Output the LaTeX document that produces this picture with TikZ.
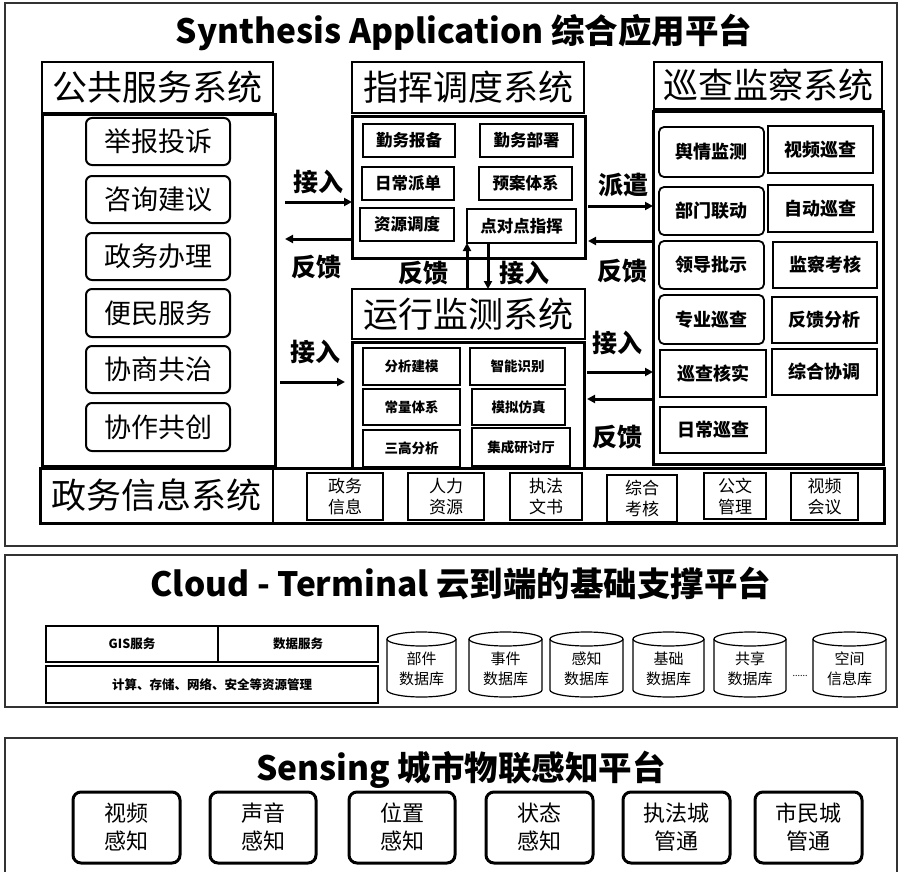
\documentclass[tikz,border=0pt]{standalone}
\usepackage{fontspec}
\setmainfont{Noto Sans CJK SC}
\usetikzlibrary{arrows.meta}
\newcommand\bx[7]{\node[#6, minimum width=#4pt-#2pt, minimum height=#5pt-#3pt] (#1) at ({(#2+#4)/2},{(#3+#5)/2}) {#7};}
\newcommand\cyl[4]{%
 \draw[dbline] (#2,639) -- (#2,690) arc[start angle=180,end angle=0,x radius={(#3-#2)/2},y radius=7] -- (#3,639);
 \draw[dbline] ({(#2+#3)/2},639) ellipse[x radius={(#3-#2)/2}, y radius=7];
 \node[dbt] (#1) at ({(#2+#3)/2},669) {#4};}
\begin{document}
\begin{tikzpicture}[x=1pt,y=-1pt,
  every node/.style={inner sep=0pt, outer sep=0pt, align=center},
  frame/.style={draw=black!80, line width=1.5pt},
  hdr/.style={draw, line width=1.8pt, font=\fontsize{35}{37}\selectfont},
  body/.style={draw, line width=3pt},
  item/.style={draw, line width=2pt, rounded corners=6pt, font=\fontsize{27}{29}\selectfont},
  cmd/.style={draw, line width=1.8pt, font=\bfseries\fontsize{16.5}{18}\selectfont},
  mon/.style={draw, line width=1.8pt, font=\bfseries\fontsize{13.5}{15}\selectfont},
  pat/.style={draw, line width=1.8pt, font=\bfseries\fontsize{18}{20}\selectfont},
  patr/.style={pat, rounded corners=5pt},
  lbl/.style={font=\bfseries\fontsize{25}{27}\selectfont},
  arr/.style={line width=3pt, -{Triangle[length=8pt,width=8pt]}},
  ttl/.style={font=\bfseries\fontsize{33.5}{35}\selectfont},
  gov/.style={draw, line width=1.8pt, font=\fontsize{17}{21}\selectfont},
  svc/.style={draw, line width=1.5pt, font=\bfseries\fontsize{12.5}{14}\selectfont},
  dbt/.style={font=\fontsize{15}{20}\selectfont},
  dbline/.style={line width=1.2pt},
  sens/.style={draw, line width=3pt, rounded corners=8pt, font=\fontsize{22}{28}\selectfont},
]
\useasboundingbox (0,0) rectangle (902,872);

% outer frames
\bx{synth}{5}{3}{897}{546}{frame}{}
\bx{cloud}{5}{555}{897}{707}{frame}{}
\draw[frame] (5,873) -- (5,738) -- (897,738) -- (897,873);

% titles
\node[ttl] (t1) at (464,32) {Synthesis Application 综合应用平台};
\node[ttl] (t2) at (461,584) {Cloud - Terminal 云到端的基础支撑平台};
\node[ttl] (t3) at (461,770) {Sensing 城市物联感知平台};

% left column
\bx{lh}{42}{62}{273}{113}{hdr}{公共服务系统}
\bx{lb}{42}{115}{275}{466}{body}{}
\bx{l1}{86}{118}{230}{165}{item}{举报投诉}
\bx{l2}{86}{176}{230}{223}{item}{咨询建议}
\bx{l3}{86}{233}{230}{280}{item}{政务办理}
\bx{l4}{86}{289}{230}{337}{item}{便民服务}
\bx{l5}{86}{346}{230}{393}{item}{协商共治}
\bx{l6}{86}{403}{230}{451}{item}{协作共创}

% command system
\bx{ch}{352}{62}{584}{113}{hdr}{指挥调度系统}
\bx{cb}{352}{117}{585}{258}{body}{}
\bx{c1}{363}{124}{455}{157}{cmd}{勤务报备}
\bx{c2}{480}{124}{573}{157}{cmd}{勤务部署}
\bx{c3}{362}{167}{454}{200}{cmd}{日常派单}
\bx{c4}{479}{167}{572}{200}{cmd}{预案体系}
\bx{c5}{360}{208}{454}{241}{cmd}{资源调度}
\bx{c6}{467}{209}{576}{243}{cmd}{点对点指挥}

% monitoring system
\bx{mh}{352}{289}{585}{339}{hdr}{运行监测系统}
\bx{mb}{352}{342}{584}{468}{body}{}
\bx{m1}{363}{348}{460}{385}{mon}{分析建模}
\bx{m2}{470}{348}{565}{385}{mon}{智能识别}
\bx{m3}{363}{389}{460}{425}{mon}{常量体系}
\bx{m4}{472}{389}{565}{425}{mon}{模拟仿真}
\bx{m5}{363}{430}{460}{467}{mon}{三高分析}
\bx{m6}{472}{428}{570}{466}{mon}{集成研讨厅}

% patrol system
\bx{rh}{654}{62}{882}{109}{hdr}{巡查监察系统}
\bx{rb}{653}{112}{883}{464}{body}{}
\bx{r1}{659}{127}{764}{177}{patr}{舆情监测}
\bx{r3}{659}{187}{764}{235}{patr}{部门联动}
\bx{r5}{659}{241}{764}{289}{patr}{领导批示}
\bx{r7}{659}{295}{764}{344}{patr}{专业巡查}
\bx{r9}{660}{350}{766}{397}{pat}{巡查核实}
\bx{r11}{660}{407}{766}{453}{pat}{日常巡查}
\bx{r2}{768}{126}{873}{173}{pat}{视频巡查}
\bx{r4}{768}{185}{873}{232}{pat}{自动巡查}
\bx{r6}{773}{242}{877}{288}{pat}{监察考核}
\bx{r8}{772}{297}{877}{343}{pat}{反馈分析}
\bx{r10}{772}{349}{877}{395}{pat}{综合协调}

% government information row
\bx{gr}{40}{468}{884}{523}{body}{}
\bx{gl}{40}{468}{273}{523}{draw, line width=1.5pt, font=\fontsize{35}{37}\selectfont}{政务信息系统}
\bx{g1}{307}{473}{383}{520}{gov}{政务\\信息}
\bx{g2}{408}{473}{484}{520}{gov}{人力\\资源}
\bx{g3}{510}{473}{582}{520}{gov}{执法\\文书}
\bx{g4}{607}{475}{677}{522}{gov}{综合\\考核}
\bx{g5}{704}{473}{766}{519}{gov}{公文\\管理}
\bx{g6}{791}{473}{858}{520}{gov}{视频\\会议}

% arrows
\draw[arr, shorten <=10pt] (lb.east |- 0,202) -- (cb.west |- 0,202);
\draw[arr, shorten >=10pt] (cb.west |- 0,239) -- (lb.east |- 0,239);
\draw[arr, shorten <=5pt, shorten >=7pt] (lb.east |- 0,382) -- (mb.west |- 0,382);
\draw[arr, shorten <=3pt] (cb.east |- 0,206) -- (rb.west |- 0,206);
\draw[arr, shorten >=3pt] (rb.west |- 0,241) -- (cb.east |- 0,241);
\draw[arr, shorten <=3pt] (mb.east |- 0,372) -- (rb.west |- 0,372);
\draw[arr, shorten >=3pt] (rb.west |- 0,399) -- (mb.east |- 0,399);
\draw[arr] (mh.north -| 467,0) -- (c6.south -| 467,0);
\draw[arr] (c6.south -| 488,0) -- (mh.north -| 488,0);

% arrow labels
\node[lbl] (a1) at (318,182) {接入};
\node[lbl] (a2) at (316,267) {反馈};
\node[lbl] (a3) at (315,352) {接入};
\node[lbl] (a4) at (623,185) {派遣};
\node[lbl] (a5) at (622,271) {反馈};
\node[lbl] (a6) at (617,343) {接入};
\node[lbl] (a7) at (617,437) {反馈};
\node[lbl] (a8) at (423,273) {反馈};
\node[lbl] (a9) at (524,273) {接入};

% cloud section
\bx{gis}{46}{626}{218}{662}{svc}{GIS服务}
\bx{dsv}{218}{626}{378}{662}{svc}{数据服务}
\bx{res}{46}{666}{378}{703}{svc}{计算、存储、网络、安全等资源管理}
\cyl{d1}{387}{456}{部件\\数据库}
\cyl{d2}{469}{542}{事件\\数据库}
\cyl{d3}{550}{623}{感知\\数据库}
\cyl{d4}{633}{704}{基础\\数据库}
\cyl{d5}{714}{786}{共享\\数据库}
\cyl{d6}{813}{886}{空间\\信息库}
\node[font=\fontsize{9}{10}\selectfont] (dots) at (800,676) {......};

% sensing section
\bx{s1}{73}{792}{180}{863}{sens}{视频\\感知}
\bx{s2}{210}{792}{316}{863}{sens}{声音\\感知}
\bx{s3}{349}{792}{455}{863}{sens}{位置\\感知}
\bx{s4}{486}{792}{593}{863}{sens}{状态\\感知}
\bx{s5}{623}{792}{730}{863}{sens}{执法城\\管通}
\bx{s6}{755}{792}{862}{863}{sens}{市民城\\管通}
\end{tikzpicture}
\end{document}
